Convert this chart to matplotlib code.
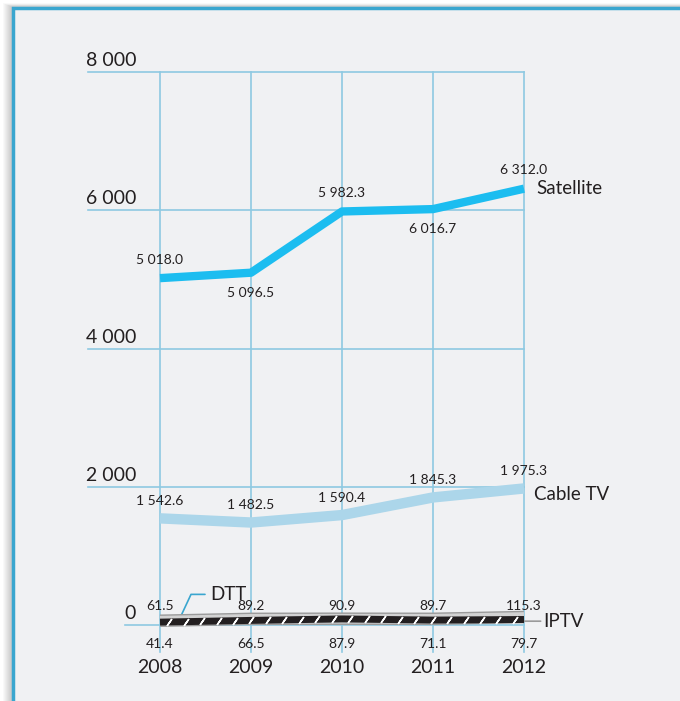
import numpy as np
import matplotlib
matplotlib.use("Agg")
import matplotlib.pyplot as plt
from matplotlib.patches import Rectangle

plt.rcParams['font.family'] = ['Lato', 'DejaVu Sans']

years = [2008, 2009, 2010, 2011, 2012]
satellite = [5018.0, 5096.5, 5982.3, 6016.7, 6312.0]
cable = [1542.6, 1482.5, 1590.4, 1845.3, 1975.3]
iptv = [61.5, 89.2, 90.9, 89.7, 115.3]
dtt = [41.4, 66.5, 87.9, 71.1, 79.7]
y_ticks = [0, 2000, 4000, 6000, 8000]
y_tick_labels = ["0", "2 000", "4 000", "6 000", "8 000"]

# label placement: +1 above, -1 below
sat_pos = [1, -1, 1, -1, 1]

TXT = '#231f20'
GRID = '#8ec9e2'
W, H = 680, 701


def fmt(v):
    s = f"{v:,.1f}"
    return s.replace(",", " ")


fig = plt.figure(figsize=(W / 100, H / 100), dpi=100, facecolor='white')

# shadow + panel frame
for i in range(10):
    fig.patches.append(Rectangle(((12 - i) / W, -0.1), 1, (H - 7 + i * 0.4) / H + 0.1,
                                 transform=fig.transFigure, facecolor='#000000',
                                 alpha=0.025, edgecolor='none', zorder=-3))
fig.patches.append(Rectangle((13 / W, -0.1), 1.2, (H - 8) / H + 0.1,
                             transform=fig.transFigure, facecolor='#f0f1f3',
                             edgecolor='#3aa6cf', linewidth=2.5, zorder=-2))

left, right, top, bottom = 88, 524, 72, 652
ax = fig.add_axes([left / W, (H - bottom) / H, (right - left) / W, (bottom - top) / H])
ax.set_zorder(2)
ax.set_facecolor('none')
px_per_year = (524 - 160) / 4
x0 = 2008 - (160 - left) / px_per_year
px_per_unit = (625 - top) / 8000
y0 = -(bottom - 625) / px_per_unit
ax.set_xlim(x0, 2012)
ax.set_ylim(y0, 8000)
ax.axis('off')

# grid
for t, lab in zip(y_ticks, y_tick_labels):
    xs = x0 + (37 / px_per_year if t == 0 else 0)
    ax.plot([xs, 2012], [t, t], color=GRID, lw=1.2, clip_on=False, zorder=1)
    ax.text(2008 - 24 / px_per_year, t + 40, lab, ha='right', va='bottom',
            fontsize=14, color=TXT)
for yr in years:
    ax.plot([yr, yr], [y0, 8000], color=GRID, lw=1.2, clip_on=False, zorder=1)
    ax.annotate(str(yr), (yr, y0), xytext=(0, -5), textcoords='offset points',
                ha='center', va='top', fontsize=14, color=TXT)

# Satellite
ax.plot(years, satellite, color='#1cbdf0', lw=6, solid_capstyle='butt',
        solid_joinstyle='round', clip_on=False, zorder=3)
for x, v, p in zip(years, satellite, sat_pos):
    ax.annotate(fmt(v), (x, v), xytext=(0, 9 if p > 0 else -10),
                textcoords='offset points', ha='center',
                va='bottom' if p > 0 else 'top', fontsize=10, color=TXT)
ax.annotate("Satellite", (2012, satellite[-1]), xytext=(9, 0), textcoords='offset points',
            ha='left', va='center', fontsize=13.5, color=TXT)

# Cable TV
ax.plot(years, cable, color='#acd6ea', lw=7.5, solid_capstyle='butt',
        solid_joinstyle='round', clip_on=False, zorder=3)
for x, v in zip(years, cable):
    ax.annotate(fmt(v), (x, v), xytext=(0, 8), textcoords='offset points',
                ha='center', va='bottom', fontsize=10, color=TXT)
ax.annotate("Cable TV", (2012, cable[-1]), xytext=(7, -4), textcoords='offset points',
            ha='left', va='center', fontsize=13.5, color=TXT)

# IPTV (grey) and DTT (black hatched)
ax.plot(years, iptv, color='#9a9a9a', lw=9, solid_capstyle='butt', clip_on=False, zorder=4)
ax.plot(years, iptv, color='#d2d2d2', lw=7, solid_capstyle='butt', clip_on=False, zorder=4)
ax.plot(years, dtt, color=TXT, lw=5, solid_capstyle='butt', clip_on=False, zorder=5)
hx = np.linspace(2008.1, 2011.9, 22)
ax.plot(hx, np.interp(hx, years, dtt), ls='none', marker=(2, 2, -35), ms=6,
        mec='white', mew=1.1, clip_on=False, zorder=6)
for x, v in zip(years, iptv):
    ax.annotate(fmt(v), (x, 0), xytext=(0, 9), textcoords='offset points',
                ha='center', va='bottom', fontsize=10, color=TXT)
for x, v in zip(years, dtt):
    ax.annotate(fmt(v), (x, 0), xytext=(0, -9), textcoords='offset points',
                ha='center', va='top', fontsize=10, color=TXT)

# IPTV leader
ax.annotate("IPTV", (2012, iptv[-1] - 60), xytext=(14, 0), textcoords='offset points',
            ha='left', va='center', fontsize=13.5, color=TXT,
            arrowprops=dict(arrowstyle='-', color='#9a9a9a', lw=1.2,
                            shrinkA=0, shrinkB=0))
# DTT leader
ax.annotate("DTT", (2008 + 20 / px_per_year, dtt[0] + 60), xytext=(22, 17),
            textcoords='offset points', ha='left', va='center', fontsize=13.5, color=TXT,
            arrowprops=dict(arrowstyle='-', color='#3aa6cf', lw=1.2,
                            shrinkA=2, shrinkB=0,
                            connectionstyle='angle,angleA=180,angleB=65,rad=0'))

fig.savefig('out.png', dpi=100, facecolor='white')
